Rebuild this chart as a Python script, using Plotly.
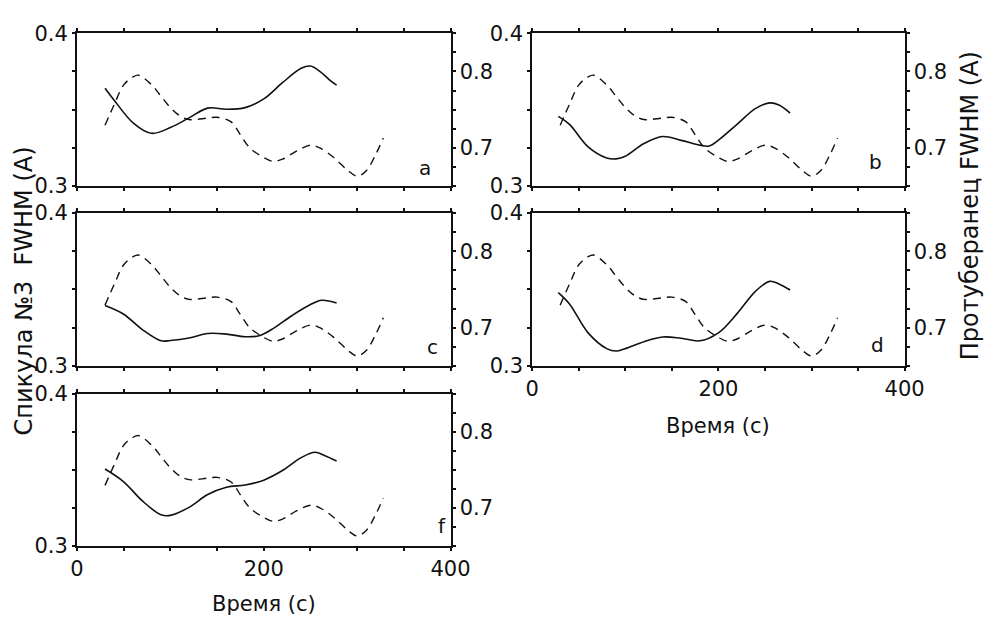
import plotly.graph_objects as go

# Prominence FWHM (right axis, dashed) - the same curve is shown in every panel
t_prom = [30, 40, 50, 60, 66, 80, 90, 100, 110, 120, 140, 150, 165, 175, 185,
          200, 210, 220, 235, 250, 260, 275, 290, 300, 310, 320, 328]
fwhm_prom = [0.7295, 0.757, 0.7823, 0.7928, 0.795, 0.7823, 0.7675, 0.7527, 0.742,
             0.737, 0.739, 0.740, 0.734, 0.717, 0.700, 0.6873, 0.6823, 0.6852,
             0.6958, 0.7034, 0.700, 0.6873, 0.6705, 0.6629, 0.6705, 0.6916, 0.713]

# Spicule No.3 FWHM (left axis, solid), one series per panel
t_a = [30, 40, 60, 80, 100, 120, 140, 160, 180, 200, 220, 240, 250, 260, 270, 278]
fwhm_a = [0.364, 0.356, 0.3414, 0.3345, 0.3383, 0.3446, 0.351, 0.3502, 0.3513,
          0.357, 0.3676, 0.377, 0.3785, 0.375, 0.3697, 0.366]

t_b = [28, 40, 60, 80, 90, 100, 120, 140, 160, 180, 190, 200, 220, 240, 255, 265, 277]
fwhm_b = [0.3456, 0.3404, 0.3257, 0.3184, 0.3178, 0.3195, 0.3278, 0.3324, 0.3299,
          0.3268, 0.3262, 0.330, 0.3404, 0.3508, 0.3544, 0.353, 0.3477]

t_c = [30, 50, 70, 90, 100, 120, 140, 160, 180, 195, 210, 230, 250, 262, 278]
fwhm_c = [0.3395, 0.3338, 0.3237, 0.3164, 0.3166, 0.3182, 0.3212, 0.3208, 0.3191,
          0.3197, 0.3244, 0.3328, 0.3401, 0.3429, 0.3412]

t_d = [28, 40, 60, 80, 90, 100, 120, 140, 160, 180, 200, 220, 240, 255, 265, 277]
fwhm_d = [0.3479, 0.3405, 0.3216, 0.3113, 0.3097, 0.3113, 0.3158, 0.3189, 0.3181,
          0.3164, 0.3216, 0.3342, 0.3489, 0.3553, 0.3536, 0.3496]

t_f = [30, 50, 70, 90, 100, 120, 140, 160, 180, 200, 220, 240, 255, 265, 278]
fwhm_f = [0.3505, 0.3421, 0.3295, 0.3204, 0.320, 0.3253, 0.3337, 0.3385, 0.3400,
          0.3432, 0.3495, 0.358, 0.3615, 0.3594, 0.3558]

panel_names = ["a", "b", "c", "d", "f"]
panel_t = [t_a, t_b, t_c, t_d, t_f]
panel_fwhm = [fwhm_a, fwhm_b, fwhm_c, fwhm_d, fwhm_f]

x_ticks = [0, 50, 100, 150, 200, 250, 300, 350, 400]
x_ticktext = ["0", "", "", "", "200", "", "", "", "400"]
left_ticks = [0.3, 0.325, 0.35, 0.375, 0.4]
left_ticktext = ["0.3", "", "", "", "0.4"]
right_ticks = [0.65, 0.675, 0.7, 0.725, 0.75, 0.775, 0.8, 0.825, 0.85]
right_ticktext = ["", "", "0.7", "", "", "", "0.8", "", ""]

x_title = "Время (с)"
left_title = "Спикула №3\u00a0\u00a0FWHM (A)"
right_title = "Протуберанец FWHM (A)"

FONT = "DejaVu Sans"
INK = "#111111"
TICK_SIZE = 21

# panel layout: (x domain, y domain, show x tick labels)
col_left = [0.073, 0.4625]
col_right = [0.5477, 0.936]
row1 = [0.7113, 0.9649]
row2 = [0.4131, 0.6667]
row3 = [0.1148, 0.3668]
panel_boxes = [
    (col_left, row1, False),
    (col_right, row1, False),
    (col_left, row2, False),
    (col_right, row2, True),
    (col_left, row3, True),
]
letter_pos = [(0.436, 0.741), (0.906, 0.751), (0.444, 0.445), (0.908, 0.447), (0.454, 0.147)]

fig = go.Figure()
layout = dict(
    width=986, height=627,
    margin=dict(l=0, r=0, t=0, b=0),
    paper_bgcolor="white", plot_bgcolor="white",
    showlegend=False,
    font=dict(family=FONT, size=TICK_SIZE, color=INK),
    annotations=[],
)

axis_line = dict(showline=True, linecolor=INK, linewidth=2, ticks="outside",
                 ticklen=3, tickwidth=1.5, tickcolor=INK, showgrid=False,
                 zeroline=False, tickfont=dict(family=FONT, size=TICK_SIZE, color=INK))

for i, (name, t, f) in enumerate(zip(panel_names, panel_t, panel_fwhm)):
    n = i + 1
    xa = "x" if n == 1 else f"x{n}"
    yl_idx = 2 * n - 1
    yr_idx = 2 * n
    yl = "y" if yl_idx == 1 else f"y{yl_idx}"
    yr = f"y{yr_idx}"
    xdom, ydom, show_xlabels = panel_boxes[i]

    fig.add_trace(go.Scatter(x=t, y=f, xaxis=xa, yaxis=yl, mode="lines",
                             line=dict(color=INK, width=1.6, shape="spline"),
                             name=f"Спикула {name}"))
    fig.add_trace(go.Scatter(x=t_prom, y=fwhm_prom, xaxis=xa, yaxis=yr, mode="lines",
                             line=dict(color=INK, width=1.4, dash="8px,6px", shape="spline"),
                             name=f"Протуберанец {name}"))

    layout["xaxis" if n == 1 else f"xaxis{n}"] = dict(
        axis_line, domain=xdom, anchor=yl, range=[0, 400],
        tickvals=x_ticks, ticktext=x_ticktext, mirror="allticks",
        showticklabels=show_xlabels,
    )
    layout["yaxis" if yl_idx == 1 else f"yaxis{yl_idx}"] = dict(
        axis_line, domain=ydom, anchor=xa, range=[0.3, 0.4],
        tickvals=left_ticks, ticktext=left_ticktext,
    )
    layout[f"yaxis{yr_idx}"] = dict(
        axis_line, overlaying=yl, anchor=xa, side="right", range=[0.65, 0.85],
        tickvals=right_ticks, ticktext=right_ticktext,
    )
    lx, ly = letter_pos[i]
    layout["annotations"].append(dict(
        text=name, x=lx, y=ly, xref="paper", yref="paper", showarrow=False,
        xanchor="center", yanchor="middle", font=dict(family=FONT, size=20, color=INK)))

# axis titles
layout["annotations"] += [
    dict(text=x_title, x=0.7414, y=1 - 430 / 627, xref="paper", yref="paper",
         showarrow=False, xanchor="center", yanchor="middle",
         font=dict(family=FONT, size=21, color=INK)),
    dict(text=x_title, x=0.2677, y=1 - 616 / 627, xref="paper", yref="paper",
         showarrow=False, xanchor="center", yanchor="middle",
         font=dict(family=FONT, size=21, color=INK)),
    dict(text=left_title, x=17 / 986, y=1 - 290 / 627, xref="paper", yref="paper",
         showarrow=False, xanchor="center", yanchor="middle", textangle=-90,
         font=dict(family=FONT, size=24, color=INK)),
    dict(text=right_title, x=990 / 986, y=1 - 201 / 627, xref="paper", yref="paper",
         showarrow=False, xanchor="center", yanchor="middle", textangle=-90,
         font=dict(family=FONT, size=24, color=INK)),
]

fig.update_layout(**layout)
fig.write_html("out.html")
